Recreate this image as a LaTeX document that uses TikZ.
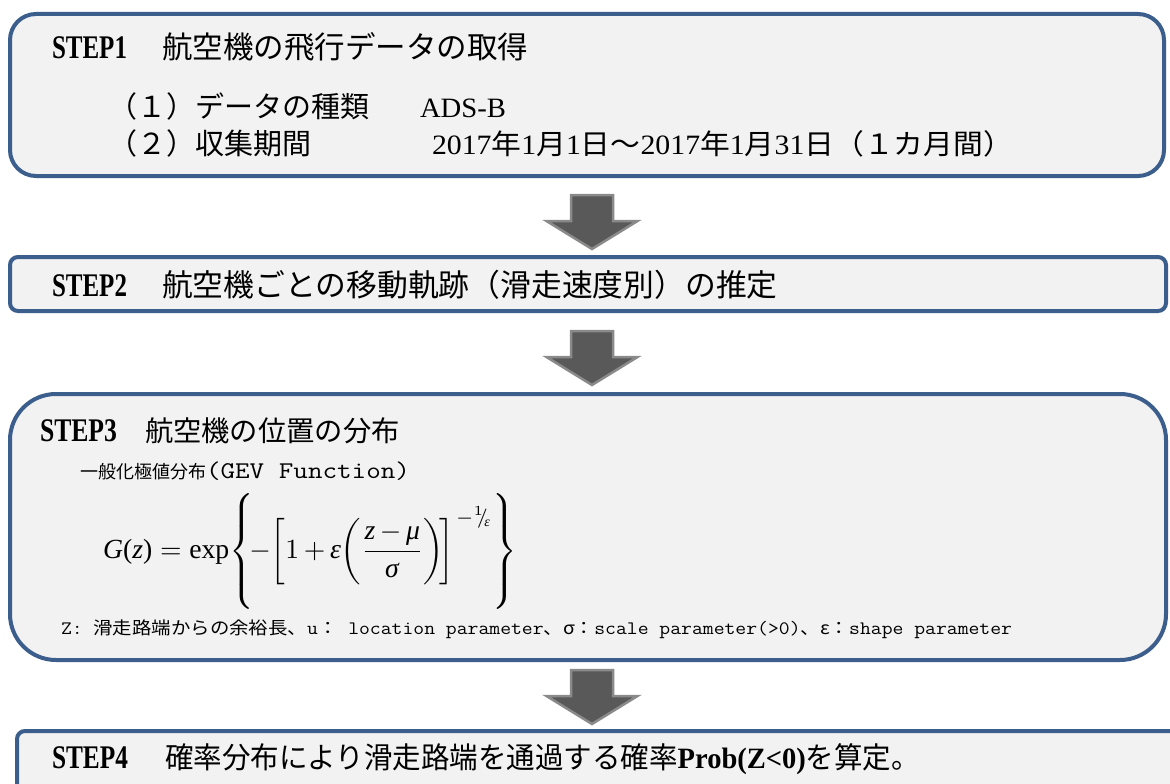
\documentclass[tikz,border=0pt]{standalone}
\usepackage{amsmath}
\usepackage{fontspec}
\setmainfont{Liberation Serif}
\newfontfamily\cjk{Noto Sans CJK JP}
\definecolor{boxblue}{HTML}{3B5E8C}
\definecolor{boxfill}{HTML}{F2F2F2}
\definecolor{arrfill}{HTML}{595959}
\definecolor{arredge}{HTML}{8A8A8A}
\newcommand{\fitw}[2]{\resizebox{#1pt}{\height}{#2}}
\newcommand{\ti}[1]{\textit{#1}}
\tikzset{
  stepbox/.style={draw=boxblue, line width=4pt, fill=boxfill, inner sep=0pt, outer sep=0pt, rectangle},
  txt/.style={anchor=base west, inner sep=0pt, outer sep=0pt, text=black},
  downarrow/.pic={
    \draw[fill=arrfill, draw=arredge, line width=2.5pt, line join=miter]
      (-21,0) -- (21,0) -- (21,26) -- (45.5,26) -- (0,54) -- (-45.5,26) -- (-21,26) -- cycle;
  }
}
\begin{document}
\begin{tikzpicture}[x=1pt,y=-1pt]
\useasboundingbox[fill=white] (0,0) rectangle (1170,784);
% boxes
\node[stepbox, rounded corners=26pt, minimum width=1154pt, minimum height=162pt] (b1) at (587,95) {};
\node[stepbox, rounded corners=8pt, minimum width=1156pt, minimum height=54pt] (b2) at (588,284) {};
\node[stepbox, rounded corners=46pt, minimum width=1156pt, minimum height=266pt] (b3) at (588,527) {};
\node[stepbox, rounded corners=8pt, minimum width=1163pt, minimum height=69pt] (b4) at (598.5,765.5) {};
% arrows
\pic at (592,195) {downarrow};
\pic at (592,331) {downarrow};
\pic at (592,670) {downarrow};
% STEP1
\node[txt, font=\fontsize{33}{36}\selectfont\bfseries] (s1) at (52,59) {\fitw{75}{STEP1}};
\node[txt, font=\fontsize{30.5}{34}\selectfont\cjk] (t1) at (162,59) {航空機の飛行データの取得};
\node[txt, font=\fontsize{29}{32}\selectfont\cjk] (l1) at (108,117) {（１）データの種類};
\node[txt, font=\fontsize{28}{32}\selectfont] (v1) at (420,117) {\fitw{86}{ADS-B}};
\node[txt, font=\fontsize{29}{32}\selectfont\cjk] (l2) at (108,154) {（２）収集期間};
\node[txt, font=\fontsize{28}{32}\selectfont] (v2) at (432,154) {\fitw{581}{2017{\cjk 年}1{\cjk 月}1{\cjk 日～}2017{\cjk 年}1{\cjk 月}31{\cjk 日（１カ月間）}}};
% STEP2
\node[txt, font=\fontsize{33}{36}\selectfont\bfseries] (s2) at (52,296) {\fitw{75}{STEP2}};
\node[txt, font=\fontsize{30.8}{34}\selectfont\cjk] (t2) at (162,296) {航空機ごとの移動軌跡（滑走速度別）の推定};
% STEP3
\node[txt, font=\fontsize{33}{36}\selectfont\bfseries] (s3) at (40,441) {\fitw{77}{STEP3}};
\node[txt, font=\fontsize{28.3}{32}\selectfont\cjk] (t3) at (145,441) {航空機の位置の分布};
\node[txt, font=\fontsize{18}{20}\selectfont\cjk] (g1) at (80,478) {一般化極値分布};
\node[txt, font=\fontsize{24}{28}\selectfont\ttfamily] (g2) at (206,478) {\fitw{204}{(GEV Function)}};
\node[anchor=west, inner sep=0pt] (f) at (103,551) {\resizebox{414pt}{!}{$\displaystyle \text{\ti{G}(\ti{z})}\mskip5mu{=}\mskip5mu\text{exp}\!\left\{\rule[-17pt]{0pt}{41pt}\!{-}\!\left[\rule[-9pt]{0pt}{24pt}1\mskip3mu{+}\mskip3mu\text{\ti{ε}}\!\left(\dfrac{\text{\ti{z}}\mskip3mu{-}\mskip3mu\text{\ti{μ}}}{\text{\ti{σ}}}\right)\!\right]^{\mskip2mu-{}^{1}\!\!/_{\!\text{\ti{ε}}}}\right\}$}};
\node[txt, font=\fontsize{19}{22}\selectfont\ttfamily] (fn) at (61,634) {\fitw{951}{Z: {\cjk\fontsize{17.5}{20}\selectfont 滑走路端からの余裕長、}u{\cjk\fontsize{17.5}{20}\selectfont ：}\ location parameter{\cjk\fontsize{17.5}{20}\selectfont 、σ：}scale parameter(>0){\cjk\fontsize{17.5}{20}\selectfont 、ε：}shape parameter}};
% STEP4
\node[txt, font=\fontsize{33}{36}\selectfont\bfseries] (s4) at (52,768) {\fitw{76}{STEP4}};
\node[txt, font=\fontsize{29.5}{34}\selectfont] (t4) at (165,768) {\fitw{755}{{\cjk 確率分布により滑走路端を通過する確率}{\bfseries Prob(Z<0)}{\cjk を算定。}}};
\end{tikzpicture}
\end{document}
